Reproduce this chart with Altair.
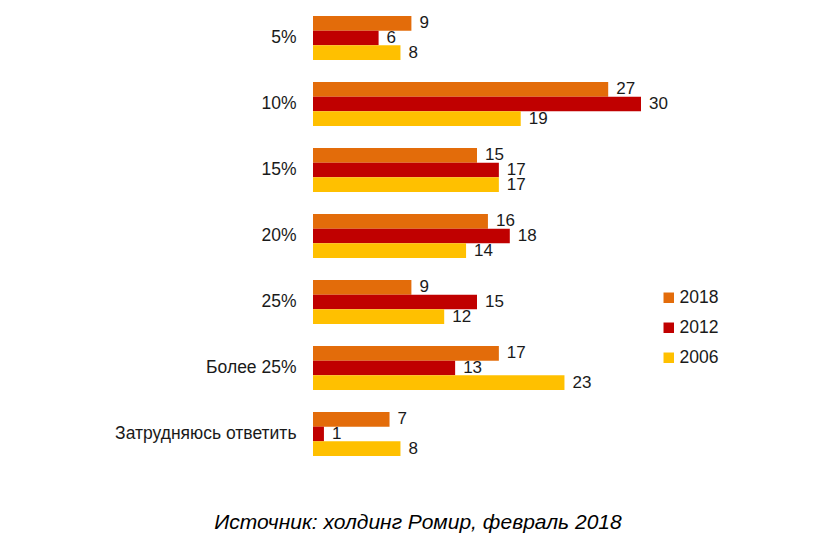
import altair as alt
import pandas as pd

categories = ["5%", "10%", "15%", "20%", "25%", "Более 25%", "Затрудняюсь ответить"]
years = ["2018", "2012", "2006"]
v2018 = [9, 27, 15, 16, 9, 17, 7]
v2012 = [6, 30, 17, 18, 15, 13, 1]
v2006 = [8, 19, 17, 14, 12, 23, 8]
colors = ["#E36C0A", "#C00000", "#FFC000"]

rows = []
for yr, vals in zip(years, [v2018, v2012, v2006]):
    for c, v in zip(categories, vals):
        rows.append({"cat": c, "year": yr, "value": v})
df = pd.DataFrame(rows)

FONT = "Liberation Sans"

base = alt.Chart(df).encode(
    y=alt.Y("cat:N", sort=categories,
            scale=alt.Scale(paddingInner=1/3, paddingOuter=0),
            axis=alt.Axis(title=None, domain=False, ticks=False, labelPadding=17,
                          labelLimit=300,
                          labelFont=FONT, labelFontSize=17.5, labelColor="#1a1a1a")),
    yOffset=alt.YOffset("year:N", sort=years, scale=alt.Scale(paddingInner=0, paddingOuter=0)),
    x=alt.X("value:Q", scale=alt.Scale(domain=[0, 30], nice=False),
            axis=None),
)

bars = base.mark_bar(cornerRadius=0).encode(
    color=alt.Color("year:N", sort=years,
                    scale=alt.Scale(domain=years, range=colors),
                    legend=alt.Legend(title=None, orient="none", legendX=347, legendY=273,
                                      symbolType="square", symbolSize=110,
                                      labelFont=FONT, labelFontSize=17.5, labelColor="#1a1a1a",
                                      labelOffset=2, rowPadding=11, symbolStrokeWidth=0))
)

labels = base.mark_text(align="left", baseline="middle", dx=8, font=FONT,
                        fontSize=17, color="#1a1a1a").encode(text="value:Q")

chart = (bars + labels).properties(
    width=328, height=440,
    padding={"left": 305, "top": 8, "right": 160, "bottom": 80},
    autosize=alt.AutoSizeParams(type="none"),
    title=alt.TitleParams("Источник: холдинг Ромир, февраль 2018", orient="bottom",
                          anchor="middle", dx=-59, offset=55, font=FONT, fontSize=21,
                          fontStyle="italic", fontWeight="normal", color="#000000"),
).configure_view(stroke=None)

chart.save("out.html", embed_options={"renderer": "svg", "actions": False})
